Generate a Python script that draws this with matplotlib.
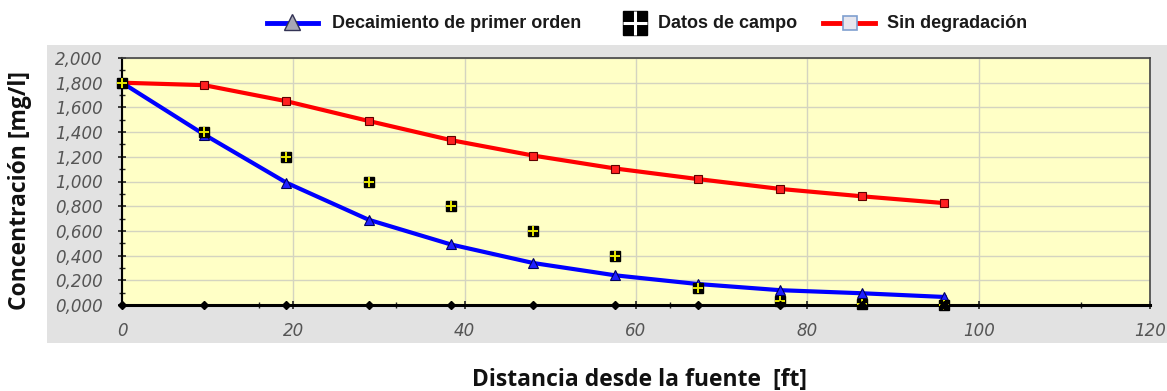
import matplotlib
matplotlib.use("Agg")
import matplotlib.pyplot as plt
from matplotlib.lines import Line2D
from matplotlib.patches import Rectangle
from matplotlib.ticker import FuncFormatter, MultipleLocator

# Distance from source [ft]
distancia = [0, 9.6, 19.2, 28.8, 38.4, 48.0, 57.6, 67.2, 76.8, 86.4, 96.0]
# First-order decay model
decaimiento = [1.80, 1.38, 0.99, 0.69, 0.49, 0.34, 0.24, 0.17, 0.12, 0.095, 0.065]
# Field measurements
datos_campo = [1.80, 1.40, 1.20, 1.00, 0.80, 0.60, 0.40, 0.14, 0.03, 0.01, 0.0]
# No degradation model
sin_degradacion = [1.80, 1.78, 1.65, 1.49, 1.335, 1.21, 1.105, 1.02, 0.94, 0.88, 0.825]

y_ticks = [0.0, 0.2, 0.4, 0.6, 0.8, 1.0, 1.2, 1.4, 1.6, 1.8, 2.0]
x_ticks = [0, 20, 40, 60, 80, 100, 120]

etiquetas = ["Decaimiento de primer orden", "Datos de campo", "Sin degradación"]

W, H = 1167, 391
fig = plt.figure(figsize=(W / 100, H / 100), dpi=100)
fig.patch.set_facecolor("white")


def fx(px):
    return px / W


def fy(py):
    return 1 - py / H


# Grey chart panel behind the plot area
fig.patches.append(Rectangle((fx(47), fy(343)), 1 - fx(47), (343 - 45) / H,
                             transform=fig.transFigure, facecolor="#e2e2e2",
                             edgecolor="none", zorder=-5))

ax = fig.add_axes([fx(122), fy(305), (1150 - 122) / W, (305 - 58) / H])
ax.set_zorder(2)
ax.set_facecolor("#ffffc6")
ax.set_xlim(0, 120)
ax.set_ylim(0, 2.0)

ax.set_yticks(y_ticks)
ax.set_xticks(x_ticks)
ax.xaxis.set_minor_locator(MultipleLocator(16))
ax.yaxis.set_minor_locator(MultipleLocator(0.1))
ax.yaxis.set_major_formatter(FuncFormatter(lambda v, p: f"{v:.3f}".replace(".", ",")))
ax.grid(True, which="major", color="#d4d4c0", linewidth=1.0)
ax.set_axisbelow(True)

for lab in ax.get_yticklabels() + ax.get_xticklabels():
    lab.set_fontstyle("italic")
    lab.set_fontsize(12)
    lab.set_color("#555555")
ax.tick_params(axis="both", which="major", length=6, width=1.2, color="#222222", direction="inout")
ax.tick_params(axis="both", which="minor", length=4, width=1.0, color="#222222", direction="inout")
ax.tick_params(axis="y", which="major", pad=11)
ax.tick_params(axis="x", which="major", pad=9)

for side in ["top", "right"]:
    ax.spines[side].set_color("#444444")
    ax.spines[side].set_linewidth(1.2)
ax.spines["bottom"].set_color("#000000")
ax.spines["bottom"].set_linewidth(2.2)
ax.spines["left"].set_color("#000000")
ax.spines["left"].set_linewidth(1.5)

# Model curves
ax.plot(distancia, sin_degradacion, color="#ff0000", linewidth=3, zorder=3,
        marker="s", markersize=6, markerfacecolor="#ff2020", markeredgecolor="#600000",
        markeredgewidth=0.8, clip_on=False)
ax.plot(distancia, decaimiento, color="#0000ff", linewidth=3, zorder=3,
        marker="^", markersize=6.5, markerfacecolor="#2020ff", markeredgecolor="#000060",
        markeredgewidth=0.8, clip_on=False)

# Field data: black squares crossed by yellow lines
ax.plot(distancia, datos_campo, linestyle="none", marker="s", markersize=7.5,
        color="#000000", zorder=4, clip_on=False)
ax.plot(distancia, datos_campo, linestyle="none", marker="+", markersize=7.5,
        markeredgewidth=1.4, color="#e8e800", zorder=5, clip_on=False)

# Sample positions along the distance axis
ax.plot(distancia, [0] * len(distancia), linestyle="none", marker="D", markersize=4,
        color="#000000", zorder=6, clip_on=False)

fig.text(fx(20), fy(190), "Concentración [mg/l]", rotation=90, fontfamily="Open Sans",
         fontweight="bold", fontsize=16.5, color="#111111", ha="center", va="center")
fig.text(fx(640), fy(380), "Distancia desde la fuente  [ft]", fontfamily="Open Sans",
         fontweight="bold", fontsize=16.5, color="#111111", ha="center", va="center")

# Legend row across the top
ly = fy(23)
leg_font = dict(family="Liberation Sans", weight="bold", size=13, color="#1a1a1a")

fig.add_artist(Line2D([fx(267), fx(318)], [ly, ly], transform=fig.transFigure,
                      color="#0000ff", linewidth=3.5))
fig.add_artist(Line2D([fx(292)], [ly + 1.5 / H], transform=fig.transFigure, linestyle="none",
                      marker="^", markersize=11, markerfacecolor="#a8a8b4",
                      markeredgecolor="#333355", markeredgewidth=1.0))
fig.text(fx(332), ly, etiquetas[0], va="center", ha="left", **leg_font)

fig.add_artist(Line2D([fx(635)], [ly], transform=fig.transFigure, linestyle="none",
                      marker="s", markersize=17, color="#000000"))
fig.add_artist(Line2D([fx(635)], [ly], transform=fig.transFigure, linestyle="none",
                      marker="+", markersize=17, markeredgewidth=2.2, color="#ffffff"))
fig.text(fx(658), ly, etiquetas[1], va="center", ha="left", **leg_font)

fig.add_artist(Line2D([fx(823), fx(875)], [ly, ly], transform=fig.transFigure,
                      color="#ff0000", linewidth=3.5))
fig.add_artist(Line2D([fx(850)], [ly], transform=fig.transFigure, linestyle="none",
                      marker="s", markersize=10, markerfacecolor="#e6e6ee",
                      markeredgecolor="#7f9fcf", markeredgewidth=1.2))
fig.text(fx(887), ly, etiquetas[2], va="center", ha="left", **leg_font)

fig.savefig("out.png", dpi=100, facecolor="white")
